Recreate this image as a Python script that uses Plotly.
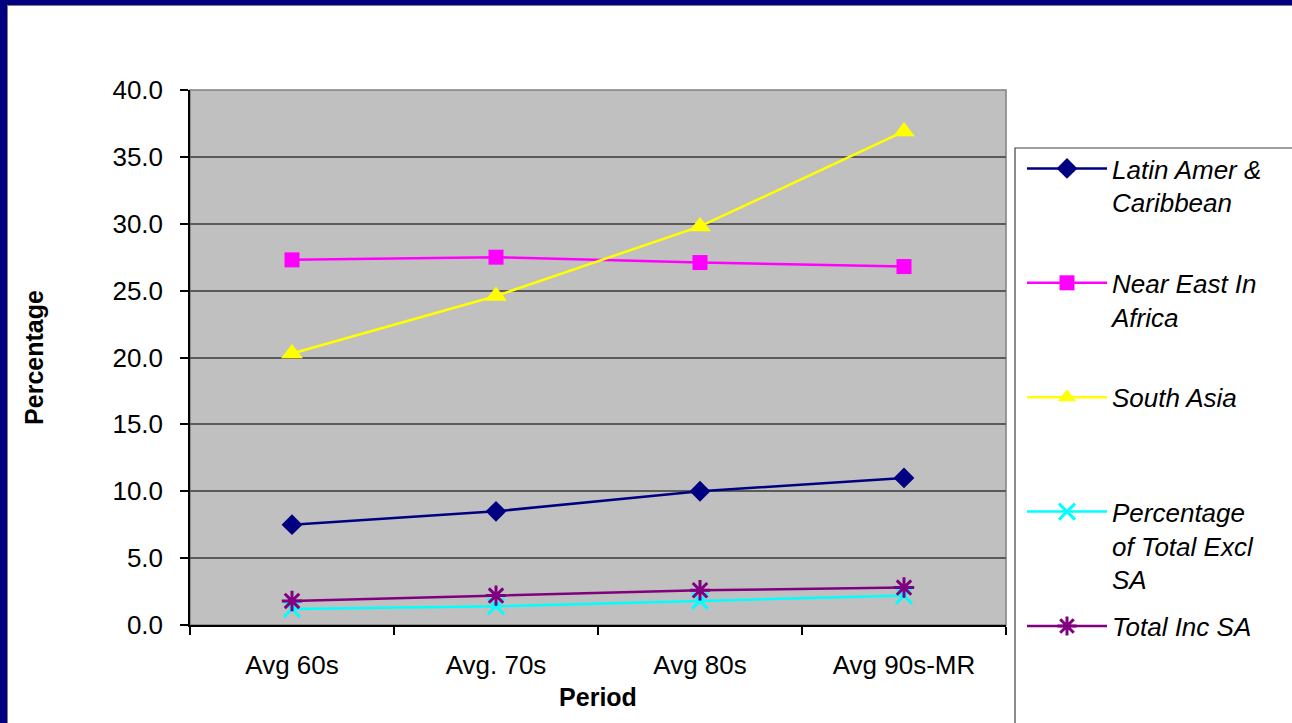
import plotly.graph_objects as go

periods = ["Avg 60s", "Avg. 70s", "Avg 80s", "Avg 90s-MR"]
latin_amer = [7.5, 8.5, 10.0, 11.0]
near_east = [27.3, 27.5, 27.1, 26.8]
south_asia = [20.3, 24.6, 29.8, 36.9]
pct_total_excl_sa = [1.2, 1.4, 1.8, 2.2]
total_inc_sa = [1.8, 2.2, 2.6, 2.8]

names = ["Latin Amer &<br>Caribbean<br> ", "Near East In<br>Africa<br> ", "South Asia<br> <br> ",
         "Percentage<br>of Total Excl<br>SA", "Total Inc SA"]

FONT = "Arial, Liberation Sans, sans-serif"
W, H = 1292, 723
L, R, T, B = 190, 1006, 90, 625

def px(x):
    return (x - L) / (R - L)

def py(y):
    return (B - y) / (B - T)

fig = go.Figure()
series = [
    (latin_amer, names[0], "#000080", dict(symbol="diamond", size=16, color="#000080")),
    (near_east, names[1], "#FF00FF", dict(symbol="square", size=15, color="#FF00FF")),
    (south_asia, names[2], "#FFFF00", dict(symbol="triangle-up", size=19, color="#FFFF00")),
    (pct_total_excl_sa, names[3], "#00FFFF",
     dict(symbol="x-thin-open", size=16, color="#00FFFF", line=dict(width=3, color="#00FFFF"))),
    (total_inc_sa, names[4], "#800080",
     dict(symbol="asterisk-open", size=17, color="#800080", line=dict(width=3, color="#800080"))),
]
for i, (vals, nm, col, mk) in enumerate(series):
    fig.add_trace(go.Scatter(
        x=periods, y=vals, name=nm, mode="lines+markers",
        line=dict(color=col, width=2.5), marker=mk, legendgroup=f"g{i}",
    ))

shapes = [
    # legend box
    dict(type="rect", xref="paper", yref="paper", x0=px(1015), x1=px(1310), y0=py(740), y1=py(148),
         line=dict(color="#404040", width=1.2), fillcolor="white", layer="below"),
    # plot area border (top/right)
    dict(type="rect", xref="paper", yref="paper", x0=0, x1=1, y0=0, y1=1,
         line=dict(color="#808080", width=1.5), fillcolor="rgba(0,0,0,0)", layer="below"),
    # navy frame
    dict(type="rect", xref="paper", yref="paper", x0=px(-5), x1=px(7), y0=py(-5), y1=py(740),
         line=dict(width=0), fillcolor="#000080"),
    dict(type="rect", xref="paper", yref="paper", x0=px(-5), x1=px(1300), y0=py(-5), y1=py(5),
         line=dict(width=0), fillcolor="#000080"),
    dict(type="line", xref="paper", yref="paper", x0=px(7.5), x1=px(7.5), y0=py(5), y1=py(740),
         line=dict(color="#808080", width=1)),
    dict(type="line", xref="paper", yref="paper", x0=px(7), x1=px(1300), y0=py(5.5), y1=py(5.5),
         line=dict(color="#808080", width=1)),
]

fig.update_layout(
    width=W, height=H,
    margin=dict(l=L, r=W - R, t=T, b=H - B, pad=0),
    paper_bgcolor="white", plot_bgcolor="#C0C0C0",
    font=dict(family=FONT, color="black", size=26),
    showlegend=True,
    legend=dict(
        x=px(1022), y=py(145), xanchor="left", yanchor="top",
        bgcolor="rgba(0,0,0,0)", borderwidth=0,
        font=dict(family=FONT, size=26, style="italic", color="black"),
        tracegroupgap=10, itemwidth=80, valign="top",
    ),
    shapes=shapes,
    xaxis=dict(
        type="category", tickson="boundaries", ticks="outside", ticklen=8,
        tickcolor="black", tickwidth=1.5, showline=True, linecolor="black", linewidth=1.5,
        showgrid=False, tickfont=dict(size=26), ticklabelstandoff=16,
        title=dict(text="<b>Period</b>", font=dict(size=25), standoff=10),
        range=[-0.5, 3.5],
    ),
    yaxis=dict(
        range=[0, 40], dtick=5, tickformat=".1f", ticks="outside", ticklen=8,
        tickcolor="black", tickwidth=1.5, showline=True, linecolor="black", linewidth=1.5,
        showgrid=True, gridcolor="#5a5a5a", gridwidth=1.5, zeroline=False,
        tickfont=dict(size=26), ticklabelstandoff=12,
        title=dict(text="<b>Percentage</b>", font=dict(size=25), standoff=62),
    ),
)

fig.write_html("out.html", config={"displayModeBar": False},
               post_script="document.body.style.margin='0';")
